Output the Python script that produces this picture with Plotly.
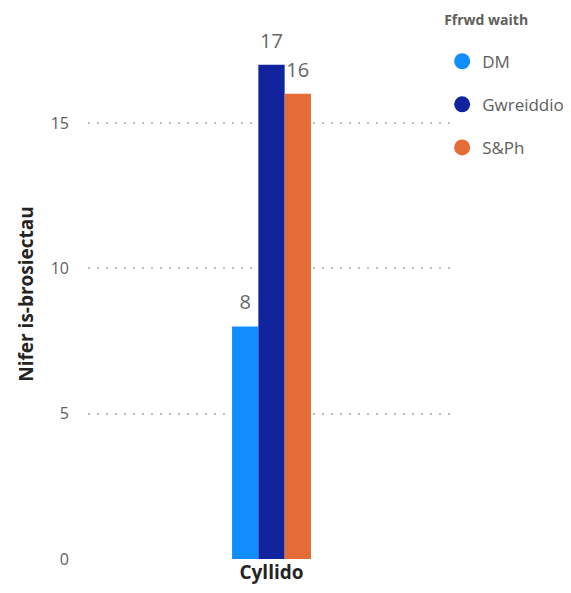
import plotly.graph_objects as go

categories = ["Cyllido"]
series_names = ["DM", "Gwreiddio", "S&Ph"]
dm_values = [8]
gwreiddio_values = [17]
sph_values = [16]
colors = ["#118DFF", "#12239E", "#E66C37"]
y_ticks = [0, 5, 10, 15]

FONT = "Open Sans, DejaVu Sans"
series_values = [dm_values, gwreiddio_values, sph_values]

fig = go.Figure()
for name, vals, col in zip(series_names, series_values, colors):
    fig.add_trace(go.Bar(
        x=categories, y=vals, name=name, marker=dict(color=col, line=dict(width=0)),
        showlegend=False, hoverinfo="x+y+name",
    ))
# value labels, grouped like the bars
for name, vals in zip(series_names, series_values):
    fig.add_trace(go.Scatter(
        x=categories, y=vals, mode="markers+text", text=[str(v) for v in vals],
        textposition="top center", cliponaxis=False,
        marker=dict(size=18, color="rgba(0,0,0,0)"),
        textfont=dict(family=FONT, size=20, color="#666666"),
        showlegend=False, hoverinfo="skip",
    ))
# legend entries (circle symbols) on a hidden overlay axis
for i, (name, col) in enumerate(zip(series_names, colors)):
    fig.add_trace(go.Scatter(
        x=[None], y=[None], mode="markers", name=name, legendgroup=f"g{i}",
        marker=dict(symbol="circle", size=17, color=col),
        xaxis="x2", yaxis="y2",
    ))

# the page adds an 8px body margin, so the figure is 8px smaller on each axis
fig.update_layout(
    width=563, height=585,
    margin=dict(l=80, r=116, t=21, b=34, autoexpand=False),
    paper_bgcolor="white", plot_bgcolor="white",
    barmode="group", bargap=0.785, bargroupgap=0,
    scattermode="group", scattergap=0.785,
    font=dict(family=FONT, color="#605E5C"),
    showlegend=True,
    legend=dict(
        title=dict(text="<b>Ffrwd waith</b><br> ", font=dict(size=14, color="#605E5C")),
        xref="paper", yref="paper",
        x=0.965, xanchor="left", y=1.041, yanchor="top",
        bgcolor="rgba(0,0,0,0)",
        font=dict(size=17, color="#605E5C"),
        tracegroupgap=18, itemwidth=30,
    ),
    xaxis=dict(
        showgrid=False, showline=False, ticks="", automargin=False,
        tickfont=dict(size=19, color="#252423", family=FONT),
        tickprefix="<b>", ticksuffix="</b>",
    ),
    yaxis=dict(
        range=[0, 18.23], tickvals=y_ticks, automargin=False,
        showgrid=True, gridcolor="#BDBDBD", griddash="2px,7px", gridwidth=1.5,
        zeroline=False, showline=False, ticks="", ticklabelstandoff=18,
        tickfont=dict(size=16, color="#605E5C"),
        title=dict(text="<b>Nifer is-brosiectau</b>", font=dict(size=19, color="#252423"), standoff=12),
    ),
    xaxis2=dict(overlaying="x", visible=False, range=[0, 1]),
    yaxis2=dict(overlaying="y", visible=False, range=[0, 1]),
)

fig.write_html("out.html")
